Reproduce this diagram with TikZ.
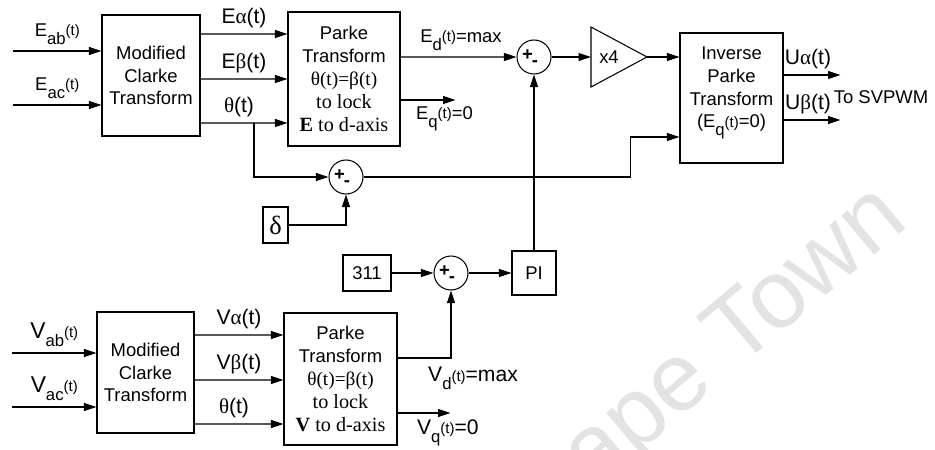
\documentclass[tikz,border=0pt]{standalone}
\usepackage{fontspec}
\setmainfont{Liberation Sans}
\newfontfamily\tms{Liberation Serif}
\usetikzlibrary{arrows.meta}
\newcommand\lowr[1]{\raisebox{-4.5pt}{\fontsize{9.5}{11}\selectfont #1}}
\newcommand\highr[1]{\raisebox{0.5pt}{\fontsize{8.5}{10}\selectfont #1}}
% signs inside a summing junction
\newcommand\signs[1]{%
  \node[sgn] (#1p) at ([shift={(-1.3mm,0.3mm)}]#1.center) {+};
  \node[sgn] (#1m) at ([shift={(0.2mm,-1.4mm)}]#1.center) {-};}

\begin{document}
\begin{tikzpicture}[x=0.02cm, y=-0.02cm, line width=0.6pt,
  font=\fontsize{10.5}{13}\selectfont,
  box/.style={draw, align=center, inner sep=1pt},
  sum/.style={draw, circle, minimum size=6.8mm, inner sep=0pt},
  sgn/.style={inner sep=0pt, font=\fontsize{10.5}{10}\selectfont\bfseries},
  arr/.style={-{Triangle[length=2.5mm,width=1.6mm]}},
  lbl/.style={font=\fontsize{12}{14}\selectfont},
  big/.style={font=\fontsize{13}{15}\selectfont}]
\useasboundingbox (0,0) rectangle (935,449);

% watermark
\node[text=black!11, rotate=40, font=\fontsize{55}{55}\selectfont] (wm) at (710,362) {Cape Town};

% upper chain
\node[box, minimum width=19.6mm, minimum height=24.2mm] (clkE) at (151,75.5) {Modified\\Clarke\\Transform};
\node[box, minimum width=22.4mm, minimum height=26.8mm] (parkE) at (344,79)
  {Parke\\Transform\\{\tms\fontsize{11}{13}\selectfont θ(t)=β(t)}\\{\tms\fontsize{11.5}{13}\selectfont to lock}\\{\tms\fontsize{11.5}{13}\selectfont\textbf{E} to d-axis}};
\node[sum] (sumE) at (534,57) {};
\signs{sumE}
\draw (591,27) -- (647,57) coordinate (gout) -- (591,87) -- cycle;
\coordinate (gin) at (591,57);
\node (gain) at (609,57) {x4};
\node[box, minimum width=20.6mm, minimum height=26mm] (invP) at (731.5,98) {};
\node[align=center] (invPt) at (731.5,93) {Inverse\\Parke\\Transform\\(E\lowr{q}\highr{(t)}=0)};
\node (svpwm) at (881,97) {To SVPWM};

% angle offset
\node[sum] (sumT) at (346,177) {};
\signs{sumT}
\node[box, minimum width=5mm, minimum height=7.2mm, font=\tms\fontsize{15}{15}\selectfont] (delta) at (275.5,225) {δ};

% amplitude loop
\node[box, minimum width=9.6mm, minimum height=7.2mm] (ref) at (367,273) {311};
\node[sum] (sumV) at (451,273) {};
\signs{sumV}
\node[box, minimum width=8.8mm, minimum height=8.8mm] (pi) at (534,273) {PI};

% lower chain
\node[box, minimum width=19.4mm, minimum height=24.2mm] (clkV) at (145.5,372.5) {Modified\\Clarke\\Transform};
\node[box, minimum width=22.6mm, minimum height=26.4mm] (parkV) at (340.5,379)
  {Parke\\Transform\\{\tms\fontsize{11}{13}\selectfont θ(t)=β(t)}\\{\tms\fontsize{11.5}{13}\selectfont to lock}\\{\tms\fontsize{11.5}{13}\selectfont\textbf{V} to d-axis}};

% inputs
\coordinate (eab) at (13,51);
\coordinate (eac) at (13,105);
\coordinate (vab) at (12,353);
\coordinate (vac) at (12,407);
\coordinate (thb) at (254,123);
\draw[arr] (eab) -- node[above]{E\lowr{ab}\highr{(t)}} (eab -| clkE.west);
\draw[arr] (eac) -- node[above]{E\lowr{ac}\highr{(t)}} (eac -| clkE.west);
\draw[arr] (vab) -- node[above, big]{V\lowr{ab}\highr{(t)}} (vab -| clkV.west);
\draw[arr] (vac) -- node[above, big]{V\lowr{ac}\highr{(t)}} (vac -| clkV.west);

% Clarke to Parke
\draw[arr] ([yshift=8.3mm]clkE.east) -- node[above, lbl]{E{\tms α}(t)} ([yshift=9mm]parkE.west);
\draw[arr] ([yshift=-0.7mm]clkE.east) -- node[above, lbl]{E{\tms β}(t)} (parkE.west);
\draw[arr] ([yshift=-9.5mm]clkE.east) -- node[above, lbl, xshift=-1mm]{{\tms θ}(t)} ([yshift=-8.8mm]parkE.west);
\draw[arr] ([yshift=7.5mm]clkV.east) -- node[above, lbl]{V{\tms α}(t)} ([yshift=8.8mm]parkV.west);
\draw[arr] ([yshift=-1.5mm]clkV.east) -- node[above, lbl]{V{\tms β}(t)} ([yshift=-0.2mm]parkV.west);
\draw[arr] ([yshift=-10.3mm]clkV.east) -- node[above, lbl, xshift=-1mm]{{\tms θ}(t)} ([yshift=-9mm]parkV.west);

% upper chain signals
\draw[arr] ([yshift=4.4mm]parkE.east) -- node[above, xshift=0.5mm]{E\lowr{d}\highr{(t)}=max} (sumE.west);
\draw[arr] ([yshift=-4.2mm]parkE.east) -- node[below, pos=0.8]{E\lowr{q}\highr{(t)}=0} ++(1.1cm,0);
\draw[arr] (sumE.east) -- (gin);
\draw[arr] (gout) -- (gout -| invP.west);
\draw[arr] ([yshift=4.6mm]invP.east) -- node[above, lbl, xshift=-0.8mm]{U{\tms α}(t)} ++(1.14cm,0);
\draw[arr] ([yshift=-4.4mm]invP.east) -- node[above, lbl, xshift=-0.8mm]{U{\tms β}(t)} ++(1.14cm,0);

% angle offset
\draw[arr] (thb) |- (sumT.west);
\draw[arr] (delta.east) -| (sumT.south);
\draw[arr] (sumT.east) -| ([xshift=-9.8mm,yshift=-7.8mm]invP.west) -- ([yshift=-7.8mm]invP.west);

% amplitude loop
\draw[arr] (ref.east) -- (sumV.west);
\draw[arr] (sumV.east) -- (pi.west);
\draw[arr] (pi.north) -- (sumE.south);
\draw[arr] ([yshift=4.2mm]parkV.east) -| node[pos=0.5, anchor=north, xshift=4.4mm, yshift=-0.6mm, lbl]{V\lowr{d}\highr{(t)}=max} (sumV.south);
\draw[arr] ([yshift=-6.8mm]parkV.east) -- node[below, pos=0.95, lbl]{V\lowr{q}\highr{(t)}=0} ++(1.06cm,0);
\end{tikzpicture}
\end{document}
